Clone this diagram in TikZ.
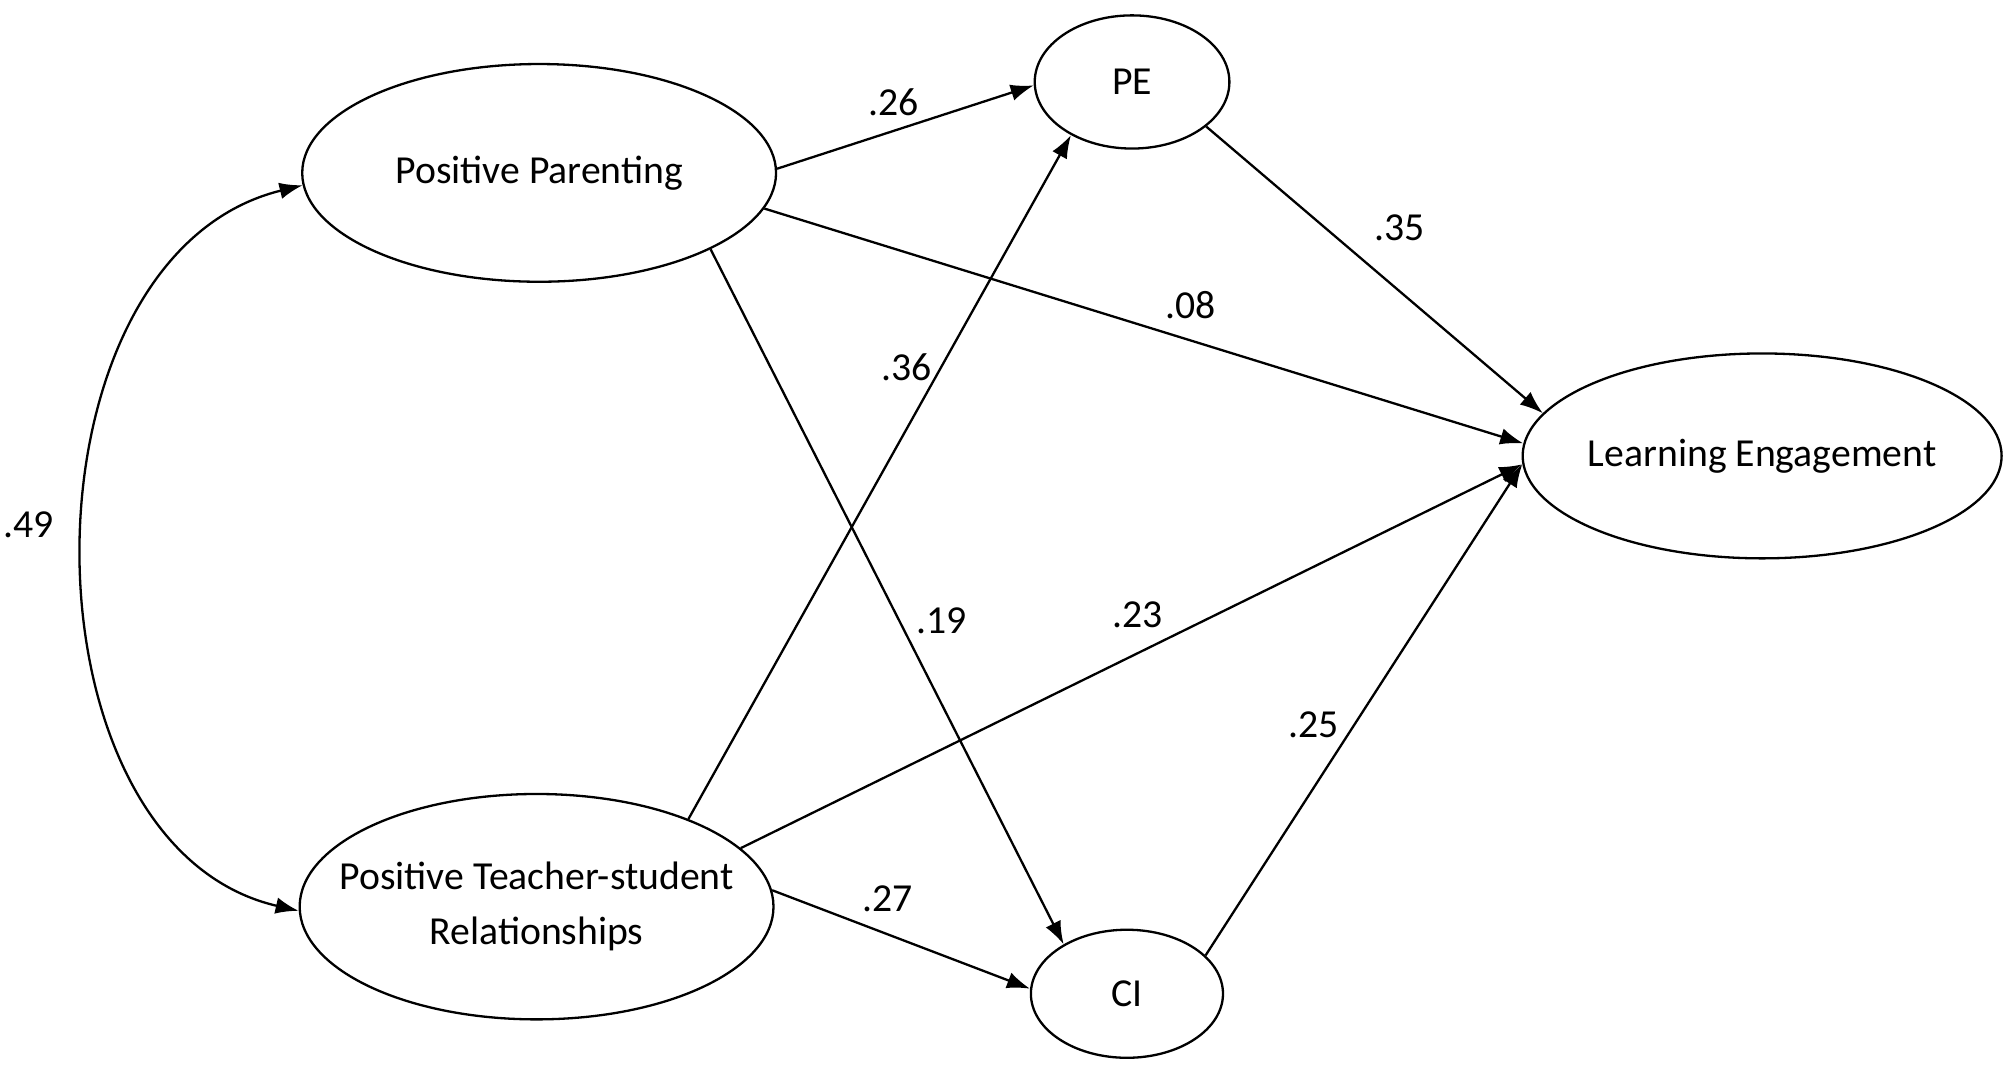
\documentclass[tikz,border=0pt]{standalone}
\usepackage{fontspec}
\setmainfont{Carlito}
\usetikzlibrary{shapes.geometric,arrows.meta}
\begin{document}
\begin{tikzpicture}[x=1pt,y=-1pt,
  lat/.style={draw,line width=1.8pt,ellipse,inner sep=-45pt,font=\fontsize{31}{37}\selectfont,align=center},
  path/.style={line width=1.8pt,-{Latex[length=18pt,width=13pt]}},
  coef/.style={font=\fontsize{31}{37}\selectfont}]
\useasboundingbox (0,0) rectangle (1568,833);
\node[lat,minimum width=370pt,minimum height=170pt] (pp) at (421,135) {Positive Parenting};
\node[lat,minimum width=152pt,minimum height=104pt] (pe) at (884,64) {PE};
\node[lat,minimum width=374pt,minimum height=160pt] (le) at (1376,356) {Learning Engagement};
\node[lat,minimum width=370pt,minimum height=176pt] (pt) at (419,708) {Positive Teacher-student\\[6pt]Relationships};
\node[lat,minimum width=150pt,minimum height=100pt] (ci) at (880,776) {CI};
\draw[path] (pp.1) -- (pe.182);
\draw[path] (pp.-9) -- (le.177.6);
\draw[path] (pp.-24.8) -- (ci.142);
\draw[path] (pt.30) -- (pe.-139);
\draw[path] (pt.16.3) -- (le.182.7);
\draw[path] (pt.4) -- (ci.177.7);
\draw[path] (pe.-31) -- (le.169.6);
\draw[path] (ci.26) -- (le.182.9);
\draw[line width=1.8pt,{Latex[length=18pt,width=13pt]}-{Latex[length=18pt,width=13pt]}] (pp.183) .. controls (10,200) and (10,660) .. (pt.181);
\node[coef] (c1) at (698,80) {.26};
\node[coef] (c2) at (930,238) {.08};
\node[coef] (c3) at (735,485) {.19};
\node[coef] (c4) at (708,287) {.36};
\node[coef] (c5) at (888,480) {.23};
\node[coef] (c6) at (693,702) {.27};
\node[coef] (c7) at (1093,178) {.35};
\node[coef] (c8) at (1026,566) {.25};
\node[coef] (c9) at (22,410) {.49};
\end{tikzpicture}
\end{document}
